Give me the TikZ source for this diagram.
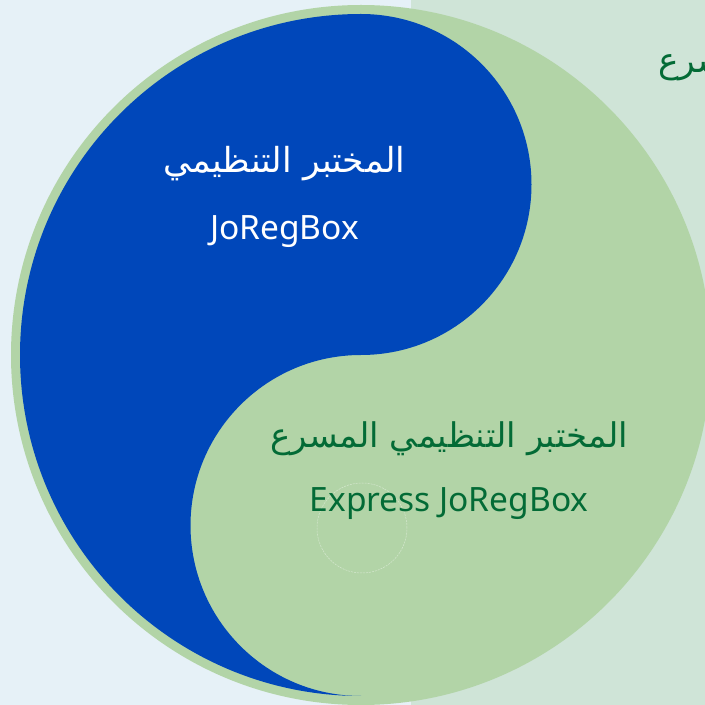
\documentclass[tikz,border=0pt]{standalone}
\usepackage{fontspec}
\setmainfont{Noto Sans}
\newfontfamily\arabicfont[Script=Arabic]{DejaVu Sans}
\TeXXeTstate=1
\usepackage{tikz}
\usetikzlibrary{positioning,calc}
\definecolor{regblue}{HTML}{0047BA}
\definecolor{ringgreen}{HTML}{B2D4A7}
\definecolor{leftbg}{HTML}{E6F1F7}
\definecolor{rightbg}{HTML}{CFE4D7}
\definecolor{textgreen}{HTML}{036B36}
\tikzstyle{lab}=[inner sep=0pt, anchor=base, text centered]
\tikzstyle{latin}=[lab, font=\fontsize{33.5}{40}\selectfont]
\tikzstyle{arab}=[lab, font=\fontsize{34.5}{40}\selectfont\arabicfont]
\newcommand{\artext}[1]{\beginR #1\endR}

\begin{document}
\begin{tikzpicture}[x=1pt,y=1pt]
	\useasboundingbox (0,0) rectangle (705,705);
	\clip (0,0) rectangle (705,705);

	% Background
	\fill[leftbg] (0,0) rectangle (411,705);
	\fill[rightbg] (411,0) rectangle (705,705);

	% Circle and the two halves
	\coordinate (o) at (361,350);
	\fill[ringgreen] (o) circle (350);
	\fill[regblue] (361,691) arc (90:270:341) arc (270:90:170.5) arc (-90:90:170.5) -- cycle;
	\draw[white, opacity=0.45, line width=0.5pt, dashed, dash pattern=on 2pt off 1pt] (362,177) circle (45);

	% Labels
	\path (284.5,532) node (a1)[arab, text=white] {\artext{المختبر التنظيمي}};
	\path (a1.base)+(0,-67) node (l1)[latin, text=white] {JoRegBox};
	\path (449,257) node (a2)[arab, font=\fontsize{34}{40}\selectfont\arabicfont, text=textgreen] {\artext{المختبر التنظيمي المسرع}};
	\path (a2.base)+(0,-64) node (l2)[latin, text=textgreen] {Express JoRegBox};
	\path (658,632) node (a3)[arab, anchor=base west, text=textgreen] {\artext{المسرع}};

\end{tikzpicture}
\end{document}
